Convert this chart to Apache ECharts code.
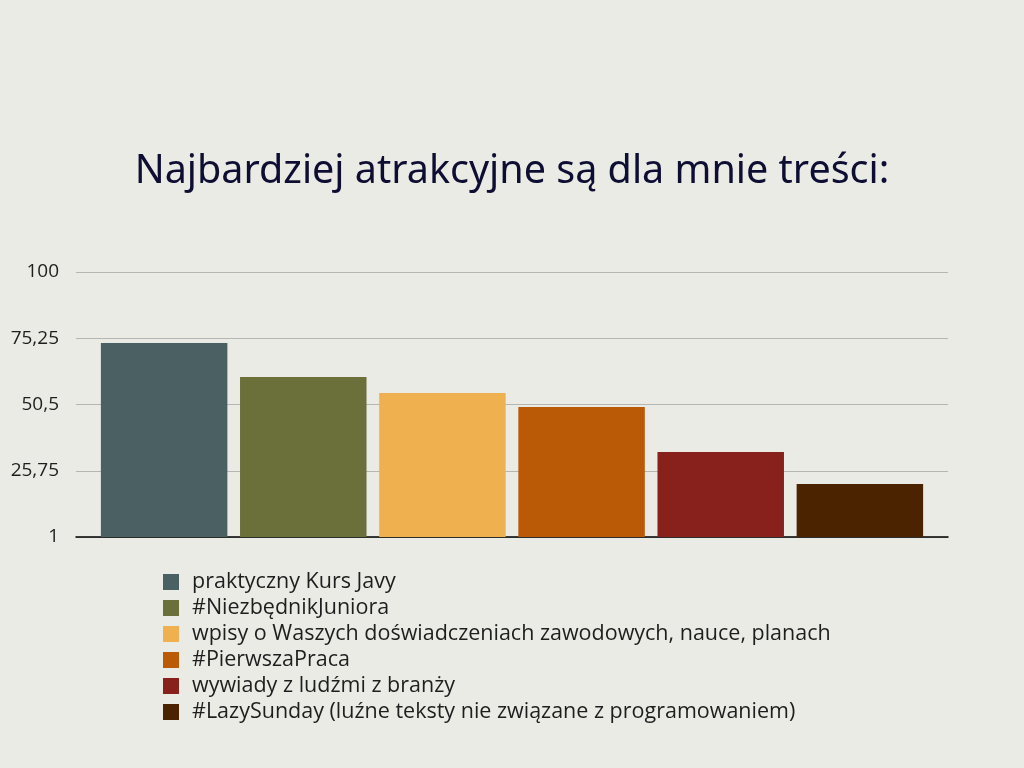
<!DOCTYPE html>
<html lang="pl">
<head>
  <meta charset="UTF-8">
  <title>Najbardziej atrakcyjne treści</title>
  <style>
    * { margin: 0; padding: 0; }
    body { background: #EBEBE6; }
  </style>
  <script src="https://cdn.jsdelivr.net/npm/echarts@6/dist/echarts.min.js"></script>
</head>
<body>
  <div id="chart" style="width: 1024px; height: 768px;"></div>
  <script>
    const chart = echarts.init(document.getElementById('chart'))

    // dane
    const names = [
      'praktyczny Kurs Javy',
      '#NiezbędnikJuniora',
      'wpisy o Waszych doświadczeniach zawodowych, nauce, planach',
      '#PierwszaPraca',
      'wywiady z ludźmi z branży',
      '#LazySunday (luźne teksty nie związane z programowaniem)'
    ]
    const values = [73.5, 60.8, 54.8, 49.6, 32.75, 20.8]
    const colors = ['#4A6063', '#6B6F3A', '#EFB14F', '#BA5A07', '#88211B', '#4C2300']
    const yTicks = [1, 25.75, 50.5, 75.25, 100]

    const font = "'Open Sans', 'Liberation Sans', Arial, sans-serif"

    const series = names.map((name, i) => ({
      name,
      type: 'bar',
      data: [values[i]],
      barWidth: 126.5,
      barGap: '10%',
      itemStyle: { color: colors[i] },
      emphasis: { disabled: true }
    }))

    chart.setOption({
      backgroundColor: '#EBEBE6',
      animation: false,
      title: {
        text: 'Najbardziej atrakcyjne są dla mnie treści:',
        left: 'center',
        top: 147,
        textStyle: {
          fontFamily: "'Noto Sans', sans-serif",
          fontSize: 39.5,
          fontWeight: 'normal',
          color: '#0E0E33'
        }
      },
      legend: {
        orient: 'vertical',
        left: 163,
        top: 569,
        padding: 0,
        itemWidth: 16,
        itemHeight: 16,
        itemGap: 0,
        icon: 'rect',
        selectedMode: false,
        textStyle: {
          fontFamily: font,
          fontSize: 21.5,
          lineHeight: 26,
          color: '#1E1E1E',
          padding: [0, 0, 0, 8]
        }
      },
      grid: { left: 76, right: 76, top: 272, bottom: 231, containLabel: false },
      xAxis: {
        type: 'category',
        data: [''],
        axisLine: { lineStyle: { color: '#000', width: 1.5 } },
        axisTick: { show: false },
        axisLabel: { show: false }
      },
      yAxis: {
        type: 'value',
        min: 1,
        max: 100,
        axisLine: { show: false },
        axisTick: { show: false, customValues: yTicks },
        splitLine: { lineStyle: { color: '#B5B5B1', width: 1 } },
        axisLabel: {
          customValues: yTicks,
          margin: 17,
          fontFamily: font,
          fontSize: 19,
          color: '#1E1E1E',
          formatter: v => String(v).replace('.', ',')
        }
      },
      series
    })
  </script>
</body>
</html>
